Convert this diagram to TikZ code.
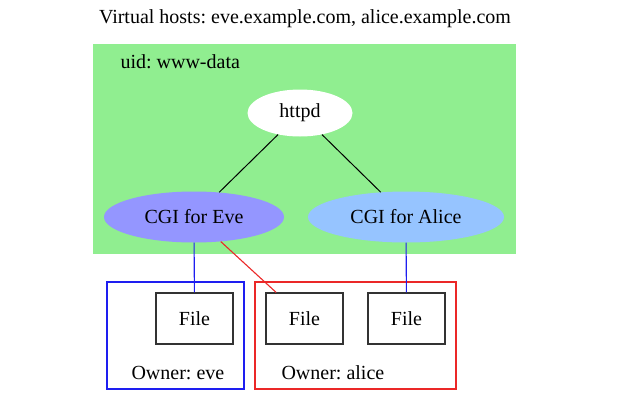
\documentclass[tikz,border=0pt]{standalone}
\usepackage{fontspec}
\setmainfont{Liberation Serif}
\usetikzlibrary{positioning}
\usetikzlibrary{shapes.geometric}
\frenchspacing

\begin{document}
\begin{tikzpicture}[x=1pt,y=-1pt]
    \tikzset{every node/.style={font=\fontsize{20}{24}\selectfont}}
    \tikzset{proc/.style={ellipse, inner sep=0pt, minimum height=51pt}}
    \tikzset{filebox/.style={rectangle, draw=black!80, line width=1.1pt, minimum width=77pt, minimum height=51pt}}
    \tikzset{owner/.style={rectangle, line width=1.3pt, minimum height=107pt}}

    % Farben
    \definecolor{uid_green}{RGB}{144,238,144}
    \definecolor{eve_blue}{RGB}{148,150,255}
    \definecolor{alice_blue}{RGB}{150,196,255}
    \definecolor{own_blue}{RGB}{30,30,240}
    \definecolor{own_red}{RGB}{235,40,40}

    \useasboundingbox (0,0) rectangle (631,410);

    % Titel
    \node[anchor=base] (title) at (305,23) {Virtual hosts: eve.example.com, alice.example.com};

    % Bereich uid: www-data
    \node[rectangle, fill=uid_green, minimum width=423pt, minimum height=210pt] (uid) at (304.5,149) {};
    \node[anchor=base west] (uidlabel) at (117,68) {uid: www-data};

    % Prozesse
    \node[proc, fill=white, minimum width=105pt, minimum height=47pt] (httpd) at (300,113) {httpd};
    \node[proc, fill=eve_blue, minimum width=180pt] (cgieve) at (194,217) {CGI for Eve};
    \node[proc, fill=alice_blue, minimum width=196pt] (cgialice) at (406,217) {CGI for Alice};

    % Besitzer
    \node[owner, draw=own_blue, minimum width=137pt] (ownereve) at (175.5,335.5) {};
    \node[owner, draw=own_red, minimum width=201pt] (owneralice) at (355.5,335.5) {};
    \node[anchor=base west] (evelabel) at (128,379) {Owner: eve};
    \node[anchor=base west] (alicelabel) at (278,379) {Owner: alice};

    % Dateien
    \node[filebox] (file1) at (194.5,318.5) {File};
    \node[filebox] (file2) at (304.5,318.5) {File};
    \node[filebox] (file3) at (406.5,318.5) {File};

    % Verbindungen
    \draw[line width=1pt] (httpd) -- (cgieve);
    \draw[line width=1pt] (httpd) -- (cgialice);
    \draw[line width=1.1pt, draw=own_blue] (cgieve) -- (file1);
    \draw[line width=1.1pt, draw=own_red] (cgieve) -- (file2);
    \draw[line width=1.1pt, draw=own_blue] (cgialice) -- (file3);

\end{tikzpicture}
\end{document}
